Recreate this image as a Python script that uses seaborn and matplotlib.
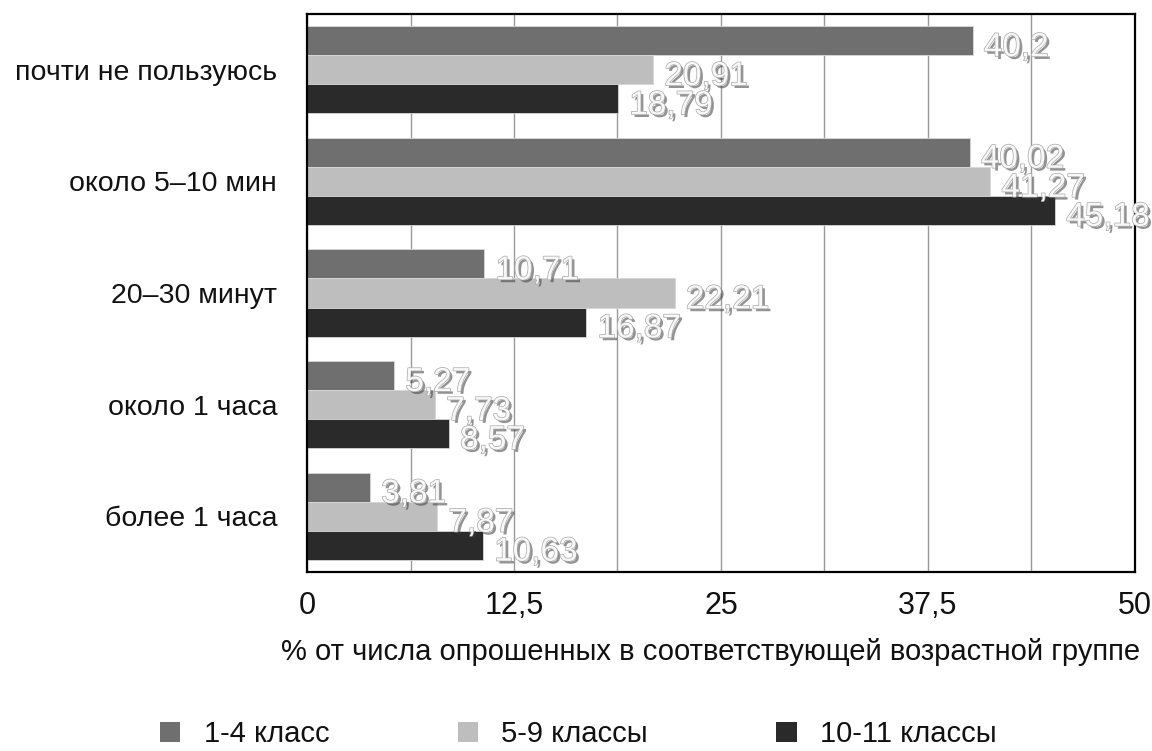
import matplotlib
matplotlib.use("Agg")
import matplotlib.pyplot as plt
import matplotlib.patheffects as pe
from matplotlib.patches import Patch
from matplotlib.ticker import FixedLocator, MultipleLocator
import pandas as pd
import seaborn as sns

# Survey data: how much time pupils spend per day, by school grade group
categories = ["почти не пользуюсь", "около 5–10 мин", "20–30 минут", "около 1 часа", "более 1 часа"]
groups = ["1-4 класс", "5-9 классы", "10-11 классы"]
grade_1_4 = [40.2, 40.02, 10.71, 5.27, 3.81]
grade_5_9 = [20.91, 41.27, 22.21, 7.73, 7.87]
grade_10_11 = [18.79, 45.18, 16.87, 8.57, 10.63]
x_ticks = [0, 12.5, 25, 37.5, 50]
x_tick_labels = ["0", "12,5", "25", "37,5", "50"]
x_label = "% от числа опрошенных в соответствующей возрастной группе"
colors = ["#6f6f6f", "#bebebe", "#2a2a2a"]

series = [grade_1_4, grade_5_9, grade_10_11]
df = pd.DataFrame({
    "category": categories * len(groups),
    "group": [g for g in groups for _ in categories],
    "value": grade_1_4 + grade_5_9 + grade_10_11,
})

sns.set_theme(style="white")
plt.rcParams["font.family"] = ["Liberation Sans", "DejaVu Sans"]

fig = plt.figure(figsize=(11.52, 7.51), dpi=100)
ax = fig.add_axes([0.2665, 0.2383, 0.7187, 0.7431])

sns.barplot(
    data=df, y="category", x="value", hue="group",
    order=categories, hue_order=groups, palette=colors,
    orient="h", width=0.78, gap=0, saturation=1,
    edgecolor="#d8d8d8", linewidth=0.6, errorbar=None,
    legend=False, ax=ax,
)

# axis, grid and frame
ax.set_xlim(0, 50)
ax.xaxis.set_major_locator(FixedLocator(x_ticks))
ax.set_xticklabels(x_tick_labels)
ax.xaxis.set_minor_locator(MultipleLocator(6.25))
ax.grid(axis="x", which="both", color="#9a9a9a", linewidth=1)
ax.set_axisbelow(True)
for s in ax.spines.values():
    s.set_visible(True)
    s.set_color("black")
    s.set_linewidth(1.6)
ax.tick_params(axis="x", which="both", length=0, pad=14, labelsize=22, labelcolor="#111111")
ax.tick_params(axis="y", length=0, pad=21.5, labelsize=20.5, labelcolor="#111111")
ax.set_ylabel("")
ax.set_xlabel(x_label, fontsize=21, color="#111111")
ax.xaxis.set_label_coords(0.488, -0.143)
ax.xaxis.label.set_va("center")

# value labels: light text with a soft grey drop shadow
effects = [
    pe.SimplePatchShadow(offset=(2.0, -2.0), shadow_rgbFace="#3a3a3a", alpha=0.55),
    pe.Stroke(linewidth=1.0, foreground="#a8a8a8"),
    pe.Normal(),
]
for container, vals in zip(ax.containers, series):
    for patch, v in zip(container, vals):
        ax.annotate(
            f"{v:g}".replace(".", ","),
            xy=(patch.get_width(), patch.get_y() + patch.get_height() / 2),
            xytext=(8, -5), textcoords="offset points",
            ha="left", va="center", fontsize=24, color="#f8f8f8",
            path_effects=effects, annotation_clip=False,
        )

handles = [Patch(facecolor=c, edgecolor="none") for c in colors]
fig.legend(
    handles, groups, loc="center left", bbox_to_anchor=(160 / 1152, 0.022),
    ncol=3, frameon=False, fontsize=21, handlelength=0.7, handleheight=0.7,
    handletextpad=0.8, columnspacing=4.4, borderpad=0, borderaxespad=0,
    labelcolor="#111111",
)

fig.savefig("out.png", dpi=100, facecolor="white")
